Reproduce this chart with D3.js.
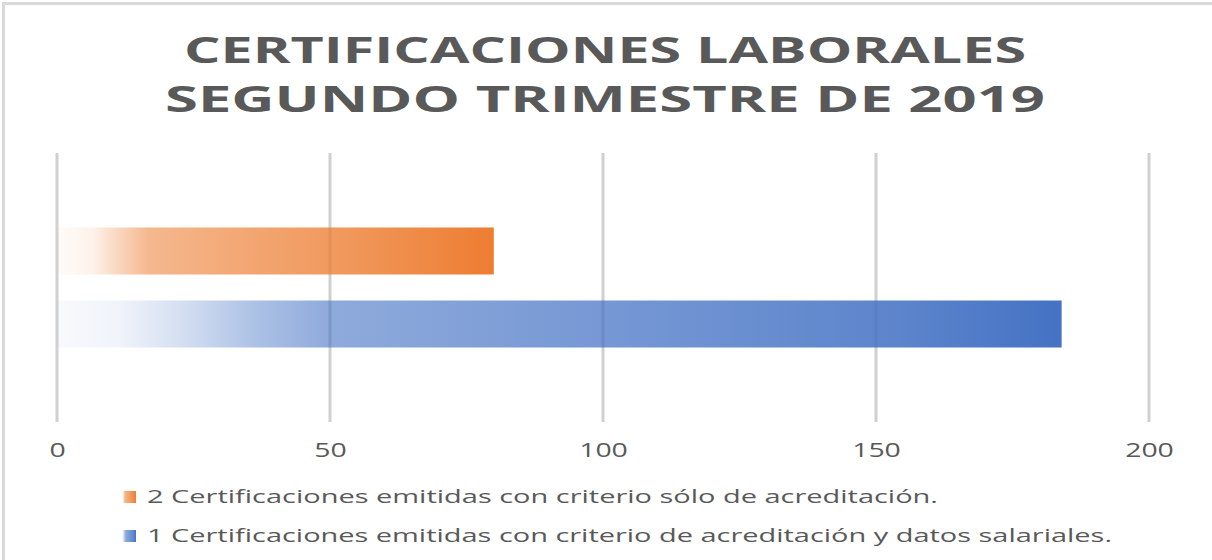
<!DOCTYPE html>
<html>
<head>
<meta charset="utf-8">
<script src="https://cdn.jsdelivr.net/npm/d3@7"></script>
<style>
  html, body { margin: 0; padding: 0; background: #fff; }
  svg { display: block; }
  text { font-family: "Open Sans", "Liberation Sans", sans-serif; fill: #595959; }
</style>
</head>
<body>
<svg id="chart" width="1212" height="560"></svg>
<script>
// ---- data ----
const titleLines = ["CERTIFICACIONES LABORALES", "SEGUNDO TRIMESTRE DE 2019"];
const categories = ["Q2"];
const seriesNames = [
  "2 Certificaciones emitidas con criterio sólo de acreditación.",
  "1 Certificaciones emitidas con criterio de acreditación y datos salariales."
];
const seriesValues = [80, 184];
const seriesColors = ["#ED7D31", "#4472C4"];
const tickValues = [0, 50, 100, 150, 200];

// ---- layout ----
const W = 1212, H = 560;
const margin = { left: 57, right: 63, top: 153, bottom: 138 };
const stretch = 1.42; // horizontal stretch of the original picture
const svg = d3.select("#chart");

// frame
svg.append("rect").attr("x", 3.5).attr("y", 3.5).attr("width", W + 10).attr("height", H + 10)
  .attr("fill", "none").attr("stroke", "#D9D9D9").attr("stroke-width", 3);

const x = d3.scaleLinear().domain([0, 200]).range([margin.left, W - margin.right]);
const y0 = d3.scaleBand().domain(categories).range([margin.top, H - margin.bottom]);
const y1 = d3.scaleBand().domain(seriesNames).range([0, y0.bandwidth()])
  .paddingInner(0.356).paddingOuter(1.02);

// gradients
const defs = svg.append("defs");
const gradStops = [
  [[0, 0.03], [0.08, 0.1], [0.14, 0.32], [0.21, 0.55], [0.47, 0.7], [0.67, 0.8], [1, 1]],
  [[0, 0.04], [0.06, 0.08], [0.12, 0.22], [0.2, 0.45], [0.27, 0.6], [0.47, 0.7], [0.84, 0.87], [1, 1]]
];
seriesColors.forEach((c, i) => {
  const g = defs.append("linearGradient").attr("id", "g" + i)
    .attr("x1", "0%").attr("x2", "100%").attr("y1", "0%").attr("y2", "0%");
  gradStops[i].forEach(([o, a]) => {
    g.append("stop").attr("offset", (o * 100) + "%").attr("stop-color", c).attr("stop-opacity", a);
  });
});

// gridlines
svg.append("g").selectAll("line").data(tickValues).join("line")
  .attr("x1", d => x(d)).attr("x2", d => x(d))
  .attr("y1", margin.top).attr("y2", H - margin.bottom)
  .attr("stroke", "#D0D0D0").attr("stroke-width", 3);

// bars
const cat = categories[0];
svg.append("g").selectAll("rect").data(seriesValues).join("rect")
  .attr("x", x(0) + 1)
  .attr("y", (d, i) => y0(cat) + y1(seriesNames[i]))
  .attr("width", d => x(d) - x(0) - 1)
  .attr("height", y1.bandwidth())
  .attr("fill", (d, i) => `url(#g${i})`);

// x axis labels
const axis = d3.axisBottom(x).tickValues(tickValues).tickSize(0).tickPadding(0).tickFormat(d3.format("d"));
const ag = svg.append("g").attr("transform", `translate(0, ${H - margin.bottom + 35})`).call(axis);
ag.select(".domain").remove();
ag.selectAll("text").attr("font-size", 20).attr("fill", "#595959")
  .style("font-family", '"Open Sans", sans-serif').attr("dy", 0)
  .each(function () {
    const l = this.getComputedTextLength();
    d3.select(this).attr("textLength", l * stretch).attr("lengthAdjust", "spacingAndGlyphs");
  });

// title
const titleWidths = [842, 880];
svg.append("g").selectAll("text").data(titleLines).join("text")
  .attr("x", 605).attr("y", (d, i) => 63 + i * 49)
  .attr("text-anchor", "middle")
  .attr("font-size", 36).attr("font-weight", "bold")
  .attr("textLength", (d, i) => titleWidths[i]).attr("lengthAdjust", "spacingAndGlyphs")
  .text(d => d);

// legend
const legendWidths = [791, 965];
const lg = svg.append("g");
seriesNames.forEach((name, i) => {
  const yy = 497 + i * 39;
  lg.append("rect").attr("x", 122).attr("y", yy - 6).attr("width", 14).attr("height", 12)
    .attr("fill", `url(#g${i})`);
  lg.append("text").attr("x", 147).attr("y", yy + 6)
    .attr("font-size", 19)
    .attr("textLength", legendWidths[i]).attr("lengthAdjust", "spacingAndGlyphs")
    .text(name);
});
</script>
</body>
</html>
